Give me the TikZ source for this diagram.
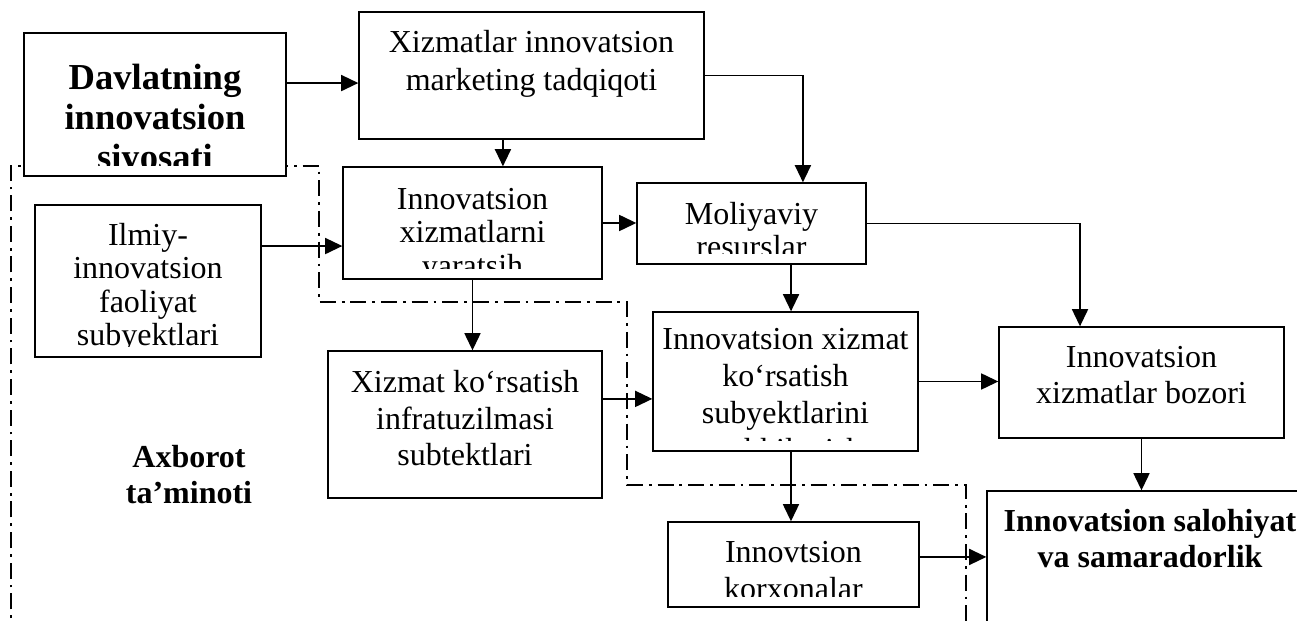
\documentclass[tikz,border=0pt]{standalone}
\usepackage{fontspec}
\setmainfont{Liberation Serif}
\usetikzlibrary{arrows.meta}

\begin{document}
\begin{tikzpicture}[x=0.4375pt,y=-0.4375pt]
	\tikzset{
		box/.style={draw, fill=white, line width=0.6pt, inner sep=0pt},
		dims/.style 2 args={minimum width=#1*0.4375pt, minimum height=#2*0.4375pt},
		txt/.style={align=center, inner sep=0pt, minimum size=0pt, font=\fontsize{14}{16}\selectfont},
		boxtext/.style 2 args={path picture={
			\node[txt, anchor=north, #1] at (path picture bounding box.north) {#2};
			\fill[white] ([yshift=4.4pt]path picture bounding box.south west) rectangle (path picture bounding box.south east);
		}},
		arr/.style={-{Triangle[length=7.5pt,width=7pt]}, line width=0.75pt},
		infoline/.style={line width=0.7pt, dash pattern=on 7pt off 2.6pt on 1.2pt off 2.6pt}
	}
	\useasboundingbox (0,0) rectangle (1297,621);
	\clip (0,0) rectangle (1297,621);

	\draw[infoline] (11,640) -- (11,166) -- (319,166) -- (319,302) -- (627,302) -- (627,485) -- (966,485) -- (966,640);

	\node[box, dims={262}{143}, boxtext={yshift=-13.5pt, font=\fontsize{16}{17.5}\selectfont\bfseries}{Davlatning\\innovatsion\\siyosati}] (davlat) at (155,104.5) {};
	\node[box, dims={345}{127}, boxtext={yshift=-7.6pt, font=\fontsize{14}{16.6}\selectfont}{Xizmatlar innovatsion\\marketing tadqiqoti}] (marketing) at (531.5,75.5) {};
	\node[box, dims={259}{112}, boxtext={yshift=-9pt, font=\fontsize{14}{14.6}\selectfont}{Innovatsion\\xizmatlarni\\yaratsih}] (yaratish) at (472.5,223) {};
	\node[box, dims={226}{152}, boxtext={yshift=-7.6pt, font=\fontsize{14}{14.6}\selectfont}{Ilmiy-\\innovatsion\\faoliyat\\subyektlari}] (ilmiy) at (148,281) {};
	\node[box, dims={229}{81}, boxtext={yshift=-8pt, font=\fontsize{14}{14.6}\selectfont}{Moliyaviy\\resurslar}] (moliya) at (751.5,223.5) {};
	\node[box, dims={274}{147}, boxtext={yshift=-8.2pt}{Xizmat ko‘rsatish\\infratuzilmasi\\subtektlari}] (infra) at (465,424.5) {};
	\node[box, dims={265}{139}, boxtext={yshift=-6.8pt, font=\fontsize{14}{16.2}\selectfont}{Innovatsion xizmat\\ko‘rsatish\\subyektlarini\\tashkil etish}] (subyekt) at (785.5,381.5) {};
	\node[box, dims={285}{111}, boxtext={yshift=-8pt, font=\fontsize{14}{15.75}\selectfont}{Innovatsion\\xizmatlar bozori}] (bozor) at (1141.5,382.5) {};
	\node[box, dims={251}{85}, boxtext={yshift=-8.2pt, font=\fontsize{14}{16.2}\selectfont}{Innovtsion\\korxonalar}] (korxona) at (793.5,564.5) {};
	\node[box, dims={326}{189}, boxtext={yshift=-7.8pt, font=\fontsize{14}{15.75}\selectfont\bfseries}{Innovatsion salohiyat\\va samaradorlik}] (salohiyat) at (1150,585.5) {};
	\node[txt, font=\fontsize{14}{15.75}\selectfont\bfseries] (axborot) at (189,475) {Axborot\\ta’minoti};

	\path ([yshift=-3.3pt]marketing.west) coordinate (a1);
	\draw[arr] (davlat.east |- a1) -- (a1);
	\path ([xshift=-12.5pt]marketing.south) coordinate (b1);
	\draw[arr] (b1) -- (b1 |- yaratish.north);
	\draw[arr] (marketing.east) -| ([xshift=22.5pt]moliya.north);
	\draw[arr] (yaratish.east) -- (yaratish.east -| moliya.west);
	\path ([yshift=15.3pt]ilmiy.east) coordinate (e1);
	\draw[arr] (e1) -- (e1 -| yaratish.west);
	\draw[arr] (yaratish.south) -- (yaratish.south |- infra.north);
	\draw[arr] (moliya.east) -| ([xshift=-26.9pt]bozor.north);
	\path ([xshift=17.3pt]moliya.south) coordinate (h1);
	\draw[arr] (h1) -- (h1 |- subyekt.north);
	\path ([yshift=11.2pt]infra.east) coordinate (i1);
	\draw[arr] (i1) -- (i1 -| subyekt.west);
	\draw[arr] (subyekt.east) -- (subyekt.east -| bozor.west);
	\draw[arr] (bozor.south) -- (bozor.south |- salohiyat.north);
	\path ([xshift=2.4pt]subyekt.south) coordinate (l1);
	\draw[arr] (l1) -- (l1 |- korxona.north);
	\path ([yshift=3.3pt]korxona.east) coordinate (m1);
	\draw[arr] (m1) -- (m1 -| salohiyat.west);
\end{tikzpicture}
\end{document}
